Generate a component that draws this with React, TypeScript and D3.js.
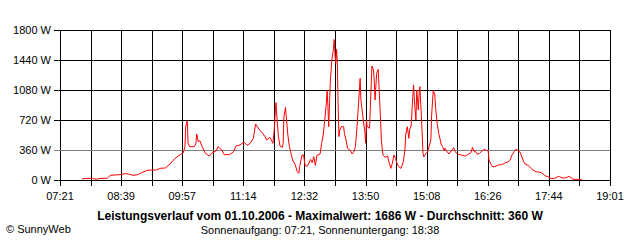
import React from 'react';
import * as d3 from 'd3';

// sample times (HH:MM) and power in W
const times = [
  '07:49', '07:55', '08:02', '08:07', '08:12', '08:21', '08:25', '08:37', '08:44', '08:48',
  '08:54', '09:00', '09:05', '09:12', '09:18', '09:24', '09:28', '09:35', '09:41', '09:47',
  '09:54', '09:58', '10:00', '10:01', '10:03', '10:04', '10:06', '10:12', '10:14', '10:15',
  '10:17', '10:19', '10:22', '10:26', '10:31', '10:34', '10:40', '10:42', '10:47', '10:50',
  '10:57', '11:02', '11:05', '11:10', '11:15', '11:19', '11:23', '11:27', '11:30', '11:35',
  '11:39', '11:42', '11:44', '11:48', '11:50', '11:52', '11:54', '11:55', '11:56', '11:57',
  '11:59', '12:01', '12:04', '12:05', '12:06', '12:08', '12:09', '12:11', '12:13', '12:15',
  '12:17', '12:20', '12:23', '12:25', '12:26', '12:29', '12:31', '12:33', '12:36', '12:40',
  '12:42', '12:44', '12:46', '12:48', '12:52', '12:54', '12:56', '12:58', '13:00', '13:01',
  '13:02', '13:03', '13:04', '13:05', '13:07', '13:09', '13:10', '13:11', '13:12', '13:13',
  '13:14', '13:15', '13:16', '13:17', '13:19', '13:22', '13:23', '13:25', '13:27', '13:30',
  '13:33', '13:35', '13:37', '13:39', '13:41', '13:43', '13:44', '13:45', '13:47', '13:49',
  '13:50', '13:51', '13:52', '13:55', '13:56', '13:58', '14:00', '14:01', '14:02', '14:04',
  '14:06', '14:07', '14:09', '14:10', '14:12', '14:15', '14:18', '14:19', '14:22', '14:24',
  '14:26', '14:28', '14:30', '14:32', '14:35', '14:38', '14:40', '14:41', '14:43', '14:45',
  '14:46', '14:48', '14:50', '14:51', '14:52', '14:54', '14:55', '14:57', '14:58', '14:59',
  '15:01', '15:03', '15:04', '15:07', '15:09', '15:13', '15:14', '15:16', '15:18', '15:19',
  '15:21', '15:23', '15:25', '15:26', '15:28', '15:30', '15:31', '15:33', '15:36', '15:38',
  '15:42', '15:44', '15:47', '15:50', '15:53', '15:57', '16:00', '16:04', '16:06', '16:08',
  '16:10', '16:12', '16:15', '16:18', '16:21', '16:23', '16:26', '16:27', '16:30', '16:32',
  '16:36', '16:39', '16:43', '16:45', '16:48', '16:51', '16:54', '16:56', '16:59', '17:01',
  '17:03', '17:06', '17:08', '17:11', '17:13', '17:17', '17:20', '17:23', '17:27', '17:30',
  '17:34', '17:36', '17:39', '17:42', '17:45', '17:49', '17:52', '17:55', '17:57', '18:00',
  '18:03', '18:07', '18:09', '18:12', '18:14', '18:19', '18:21', '18:25',
];
const power = [
  12, 20, 20, 8, 20, 20, 56, 64, 76, 72,
  56, 64, 88, 116, 120, 120, 140, 144, 192, 256,
  304, 328, 400, 640, 712, 440, 400, 400, 440, 552,
  460, 472, 400, 320, 288, 320, 352, 400, 360, 304,
  304, 340, 408, 420, 456, 416, 440, 500, 672, 600,
  560, 520, 480, 512, 480, 440, 632, 832, 928, 760,
  520, 408, 392, 440, 760, 872, 760, 540, 400, 320,
  240, 192, 100, 80, 160, 300, 300, 168, 168, 248,
  208, 280, 176, 296, 312, 440, 540, 720, 920, 1072,
  880, 640, 920, 1180, 1440, 1568, 1686, 1500, 1400, 1568,
  1408, 880, 520, 600, 640, 640, 560, 480, 380, 360,
  312, 340, 400, 640, 920, 1220, 960, 880, 720, 580,
  440, 720, 640, 620, 880, 1368, 1320, 1180, 960, 1280,
  1328, 1120, 720, 480, 300, 272, 288, 240, 140, 200,
  300, 260, 200, 160, 140, 220, 360, 540, 640, 500,
  600, 660, 1000, 1140, 960, 720, 1080, 840, 1020, 1120,
  760, 320, 280, 320, 340, 480, 780, 1072, 1032, 872,
  680, 560, 480, 432, 400, 352, 380, 348, 312, 336,
  388, 340, 308, 304, 296, 288, 304, 328, 392, 340,
  340, 308, 320, 348, 368, 360, 348, 240, 180, 156,
  168, 180, 184, 192, 208, 216, 240, 296, 340, 368,
  360, 340, 300, 220, 192, 176, 144, 120, 100, 96,
  88, 68, 48, 40, 20, 20, 24, 44, 40, 24,
  24, 36, 44, 24, 8, 8, 8, 4,
];

const yTicks = [0, 360, 720, 1080, 1440, 1800];
const xLabels = ['07:21', '08:39', '09:57', '11:14', '12:32', '13:50', '15:08', '16:26', '17:44', '19:01'];
const title = 'Leistungsverlauf vom 01.10.2006 - Maximalwert: 1686 W - Durchschnitt: 360 W';
const subtitle = 'Sonnenaufgang: 07:21, Sonnenuntergang: 18:38';

const toMin = (s: string) => {
  const [h, m] = s.split(':').map(Number);
  return h * 60 + m;
};

const W = 640;
const H = 240;
const left = 60, right = 610, top = 30, bottom = 180;
const font = '"Liberation Sans", Arial, sans-serif';

export default function App() {
  const data = times.map((t, i) => ({ t: toMin(t), p: power[i] }));

  const x = d3.scaleLinear()
    .domain([toMin(xLabels[0]), toMin(xLabels[xLabels.length - 1])])
    .range([left, right]);
  const y = d3.scaleLinear().domain([0, 1800]).range([bottom, top]);

  // gridlines every half label step (18 intervals)
  const gridX = d3.range(0, 19).map((i) => left + (i * (right - left)) / 18);

  const line = d3.line<{ t: number; p: number }>()
    .x((d) => x(d.t))
    .y((d) => y(d.p));

  const px = (v: number) => Math.round(v) + 0.5;

  return (
    <svg width={W} height={H} style={{ position: 'absolute', left: 0, top: 0, background: '#fff' }}>
      <rect x={0} y={0} width={W} height={H} fill="#fff" />
      <g shapeRendering="crispEdges">
        {gridX.map((gx, i) => (
          <line key={'vx' + i} x1={px(gx)} x2={px(gx)} y1={top} y2={bottom + 6} stroke="#000" strokeWidth={1} />
        ))}
        {yTicks.filter((v) => v !== 360).map((v) => (
          <line key={'hy' + v} x1={left - 6} x2={right + 1} y1={px(y(v))} y2={px(y(v))} stroke="#000" strokeWidth={1} />
        ))}
        <line x1={left - 6} x2={right} y1={px(y(360))} y2={px(y(360))} stroke="#808080" strokeWidth={1} />
      </g>
      <path d={line(data) || ''} fill="none" stroke="#ff0000" strokeWidth={1} />
      <g fontFamily={font} fontSize={11} fill="#000">
        {yTicks.map((v) => (
          <text key={'yl' + v} x={51} y={y(v) + 4} textAnchor="end">{v} W</text>
        ))}
        {xLabels.map((l, i) => (
          <text key={'xl' + l} x={gridX[i * 2]} y={200} textAnchor="middle">{l}</text>
        ))}
        <text x={320} y={220} textAnchor="middle" fontWeight="bold" fontSize={12}>{title}</text>
        <text x={320} y={234} textAnchor="middle">{subtitle}</text>
        <text x={6} y={233}>© SunnyWeb</text>
      </g>
    </svg>
  );
}
